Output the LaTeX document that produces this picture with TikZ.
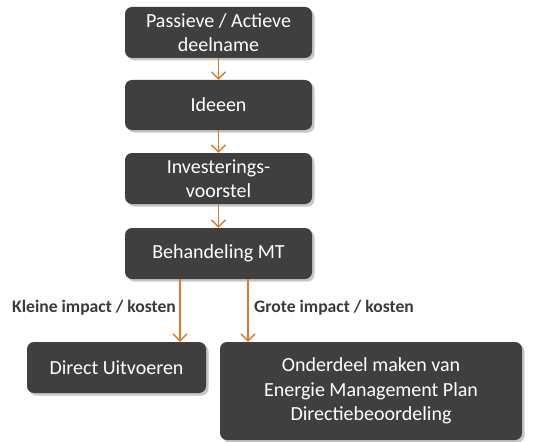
\documentclass[tikz,border=0pt]{standalone}
\usepackage{fontspec}
\setmainfont{Carlito}
\usetikzlibrary{arrows.meta,shadows}
\definecolor{boxgray}{HTML}{3F3F3F}
\definecolor{arrorange}{HTML}{E0782A}
\definecolor{labgray}{HTML}{3A3A3A}
\tikzset{
  box/.style={draw=none, fill=boxgray, rounded corners=7pt, text=white, align=center,
    font=\fontsize{20}{24.5}\selectfont, inner sep=0pt,
    drop shadow={shadow xshift=2.5pt, shadow yshift=-2.5pt, opacity=0.22, fill=black}},
  arr/.style={draw=arrorange, line width=1.3pt, -{Straight Barb[length=7pt,width=14pt,line width=1.3pt]}},
  lab/.style={text=labgray, font=\fontsize{17.6}{20}\selectfont\bfseries, inner sep=0pt}
}
\begin{document}
\begin{tikzpicture}[x=1pt,y=-1pt]
\useasboundingbox (0,0) rectangle (545,441);
\node[box, minimum width=187pt, minimum height=51pt] (b1) at (218.5,32.5) {Passieve / Actieve\\deelname};
\node[box, minimum width=187pt, minimum height=50pt] (b2) at (218.5,105) {Ideeen};
\node[box, minimum width=187pt, minimum height=51pt] (b3) at (218.5,178.5) {Investerings-\\voorstel};
\node[box, minimum width=187pt, minimum height=51pt] (b4) at (218.5,253.5) {Behandeling MT};
\node[box, minimum width=179pt, minimum height=51pt] (b5) at (116.5,367.5) {Direct Uitvoeren};
\node[box, minimum width=302pt, minimum height=98pt] (b6) at (371,391) {Onderdeel maken van\\Energie Management Plan\\Directiebeoordeling};
\draw[arr] (b1) -- (b2);
\draw[arr] (b2) -- (b3);
\draw[arr] (b3) -- (b4);
\coordinate (la) at (180,300);
\coordinate (ra) at (248,300);
\draw[arr] (b4.south -| la) -- (la |- b5.north);
\draw[arr] (b4.south -| ra) -- (ra |- b6.north);
\node[lab, anchor=east] (kl) at (176,308) {Kleine impact / kosten};
\node[lab, anchor=west] (gr) at (254,308) {Grote impact / kosten};
\end{tikzpicture}
\end{document}
